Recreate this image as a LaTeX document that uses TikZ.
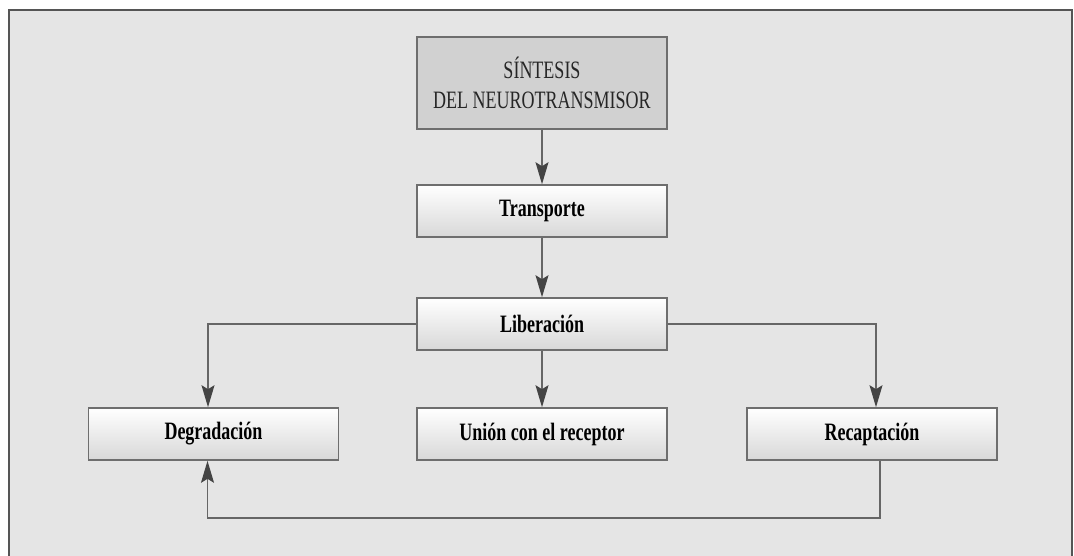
\documentclass[tikz,border=0pt]{standalone}
\usepackage{fontspec}
\usetikzlibrary{arrows.meta}
\newfontfamily\etiqfont[FakeStretch=0.72]{Liberation Serif}

\definecolor{fondo}{HTML}{E5E5E5}
\definecolor{marco}{HTML}{555555}
\definecolor{borde}{HTML}{6E6E6E}
\definecolor{linea}{HTML}{666666}
\definecolor{punta}{HTML}{444444}
\definecolor{gristop}{HTML}{D1D1D1}

\tikzset{
    caja/.style={draw=borde, line width=1.6pt, minimum width=250pt, minimum height=52pt,
        inner sep=0pt, top color=white, bottom color=gristop!85!white,
        font=\etiqfont\bfseries\fontsize{25}{30}\selectfont},
    cajasup/.style={draw=borde, line width=1.6pt, fill=gristop, minimum width=250pt,
        minimum height=92pt, inner sep=0pt, align=center, text=black!85,
        font=\etiqfont\fontsize{25}{30}\selectfont},
    flecha/.style={draw=linea, line width=1.4pt,
        -{Stealth[length=22pt,width=13pt,inset=4pt,color=punta]}}
}

\begin{document}
\begin{tikzpicture}[x=1pt,y=-1pt]
    \useasboundingbox (0,0) rectangle (1074,556);
    % marco de fondo
    \draw[draw=marco, fill=fondo, line width=1.8pt] (9,10) rectangle (1072,580);

    % cajas
    \node[cajasup] (sintesis) at (542,83) {SÍNTESIS\\DEL NEUROTRANSMISOR};
    \node[caja] (transporte) at (542,211) {Transporte};
    \node[caja] (liberacion) at (542,324) {Liberación};
    \node[caja] (degradacion) at (213.5,434) {Degradación};
    \node[caja] (union) at (542,434) {Unión con el receptor};
    \node[caja] (recaptacion) at (872,434) {Recaptación};

    % flechas
    \draw[flecha] (sintesis) -- (transporte);
    \draw[flecha] (transporte) -- (liberacion);
    \draw[flecha] (liberacion) -- (union);
    \draw[flecha] (liberacion.west) -| ([xshift=-5.5pt]degradacion.north);
    \draw[flecha] (liberacion.east) -| ([xshift=4pt]recaptacion.north);
    % recaptacion vuelve a degradacion
    \draw[flecha] ([xshift=8pt]recaptacion.south) -- ++(0,57) -| ([xshift=-6pt]degradacion.south);
\end{tikzpicture}
\end{document}
